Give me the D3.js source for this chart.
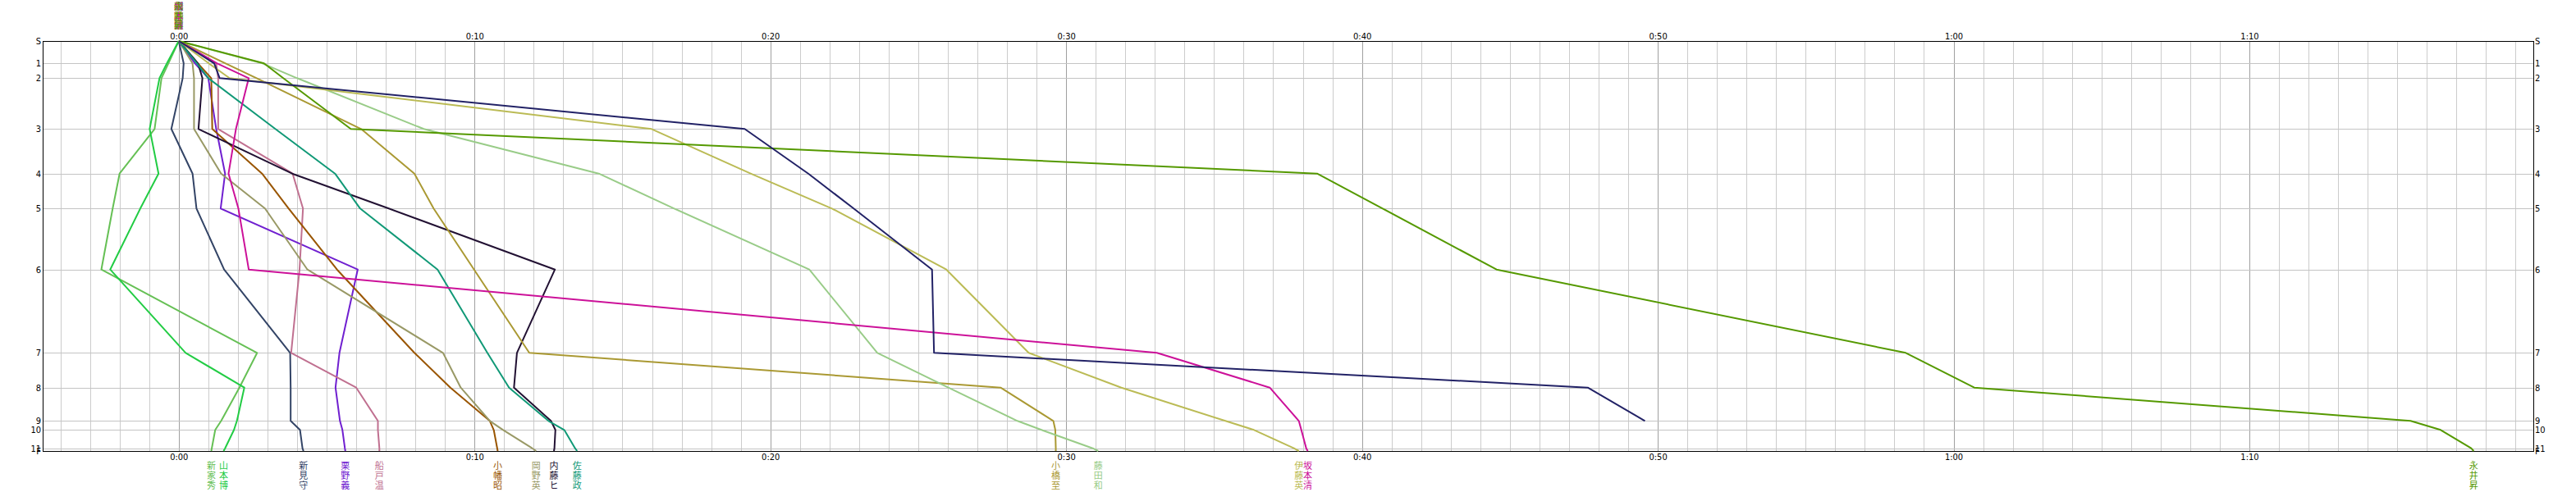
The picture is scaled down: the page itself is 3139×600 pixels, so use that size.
<!DOCTYPE html>
<html>
<head>
<meta charset="utf-8">
<script src="https://cdn.jsdelivr.net/npm/d3@7"></script>
<style>
  body { margin: 0; background: #fff; }
  svg text { font-family: 'DejaVu Sans Condensed', 'DejaVu Sans', sans-serif; font-stretch: condensed; }
  .name { font-family: 'Noto Sans CJK JP', sans-serif; }
</style>
</head>
<body>
<div id="chart"></div>
<script>
// controles del recorrido y distancia acumulada (m)
const controls = ['S', '1', '2', '3', '4', '5', '6', '7', '8', '9', '10', '11', 'F'];
const controlDist = [0, 273, 453, 1073, 1617, 2043, 2787, 3803, 4227, 4633, 4743, 4967, 5000];

// corredores
const runners = ['新家秀', '山本博', '新見守', '栗野義', '船戸温', '小幡昭', '岡野英', '内藤ヒ',
    '佐藤政', '小橋至', '藤田和', '伊藤英', '坂本清', '永井昇', ''];
const runnerColors = ['#66c055', '#22cc44', '#334466', '#7020d0', '#c07090', '#995500', '#999966', '#221133',
    '#119977', '#aa9933', '#99cc88', '#bbbb55', '#cc1199', '#559900', '#222266'];

// diferencia (s) en cada control: S,1..11,F
const splits = [
    [0, -21, -35, -49, -120, -134, -157, 159, 123, 86, 74, 67, 66],
    [0, -24, -39, -59, -41, -78, -139, 14, 133, 118, 112, 94, 91],
    [0, 10, 8, -15, 28, 36, 92, 226, 227, 227, 246, 251, 253],
    [0, 33, 60, 76, 94, 85, 363, 326, 318, 327, 332, 337, 338],
    [0, 76, 80, 80, 231, 252, 245, 228, 360, 404, 404, 407, 407],
    [0, 39, 66, 68, 169, 223, 321, 478, 551, 631, 639, 646, 647],
    [0, 28, 31, 31, 86, 175, 261, 536, 572, 631, 658, 717, 725],
    [0, 39, 48, 40, 230, 426, 763, 686, 680, 755, 764, 762, 761],
    [0, 37, 60, 196, 317, 368, 525, 626, 670, 750, 782, 804, 808],
    [0, 95, 158, 370, 478, 517, 599, 711, 1667, 1774, 1778, 1779, 1779],
    [0, 170, 240, 497, 852, 1005, 1279, 1417, 1561, 1701, 1750, 1854, 1865],
    [0, 61, 103, 959, 1160, 1325, 1557, 1724, 1912, 2123, 2181, 2262, 2272],
    [0, 78, 142, 116, 101, 121, 142, 1984, 2213, 2272, 2277, 2287, 2290],
    [0, 173, 212, 349, 2309, 2442, 2673, 3503, 3642, 4527, 4588, 4650, 4655],
    [0, 72, 83, 1148, 1277, 1369, 1528, 1532, 2858, 2974]
];

const width = 3139, height = 600;

const x = d3.scaleLinear().domain([-276, 4776]).range([52, 3087]);
const y = d3.scaleLinear().domain([0, 5000]).range([50, 550]);

const svg = d3.select('#chart').append('svg')
    .attr('width', width)
    .attr('height', height);

//Rejilla
svg.append('g').selectAll('line')
    .data(d3.range(-240, 4777, 60))
    .enter().append('line')
    .attr('x1', d => Math.round(x(d)) + 0.5).attr('x2', d => Math.round(x(d)) + 0.5)
    .attr('y1', y(0)).attr('y2', y(5000))
    .attr('stroke', d => d % 600 == 0 ? '#a0a0a0' : '#cccccc')
    .attr('stroke-width', 1);

svg.append('g').selectAll('line')
    .data(controlDist.slice(1, -1))
    .enter().append('line')
    .attr('x1', x.range()[0]).attr('x2', x.range()[1])
    .attr('y1', d => Math.round(y(d)) + 0.5).attr('y2', d => Math.round(y(d)) + 0.5)
    .attr('stroke', '#c4c4c4')
    .attr('stroke-width', 1);

//Ejes
const fmt = d => Math.floor(d / 3600) + ':' + d3.format('02')(Math.floor(d / 60) % 60);
const timeTicks = d3.range(0, 4201, 600);

const axTop = svg.append('g').attr('transform', 'translate(0,' + y(0) + ')')
    .call(d3.axisTop(x).tickValues(timeTicks).tickSize(0).tickPadding(2).tickFormat(fmt));
const axBottom = svg.append('g').attr('transform', 'translate(0,' + y(5000) + ')')
    .call(d3.axisBottom(x).tickValues(timeTicks).tickSize(0).tickPadding(3).tickFormat(fmt));
const axLeft = svg.append('g').attr('transform', 'translate(' + x.range()[0] + ',0)')
    .call(d3.axisLeft(y).tickValues(controlDist).tickSize(0).tickPadding(2).tickFormat((d, i) => controls[i]));
const axRight = svg.append('g').attr('transform', 'translate(' + x.range()[1] + ',0)')
    .call(d3.axisRight(y).tickValues(controlDist).tickSize(0).tickPadding(2).tickFormat((d, i) => controls[i]));

[axTop, axBottom, axLeft, axRight].forEach(a => {
    a.select('.domain').remove();
    a.selectAll('text').attr('font-size', 11).attr('fill', '#000');
});

svg.append('rect')
    .attr('x', x.range()[0] + 0.5).attr('y', y(0) + 0.5)
    .attr('width', x.range()[1] - x.range()[0]).attr('height', y(5000) - y(0))
    .attr('fill', 'none').attr('stroke', '#000').attr('stroke-width', 1);

//Lineas
const line = d3.line()
    .x(d => x(d[0]))
    .y(d => y(d[1]));

svg.append('g').selectAll('path')
    .data(splits)
    .enter().append('path')
    .attr('d', (d) => line(d.map((v, j) => [v, controlDist[j]])))
    .attr('fill', 'none')
    .attr('stroke', (d, i) => runnerColors[i])
    .attr('stroke-width', 2)
    .attr('stroke-linejoin', 'round');

//Nombres: arriba en la salida, abajo en la llegada
const names = svg.append('g');
runners.forEach((name, i) => {
    if (!name) return;
    const chars = name.split('');
    const s = splits[i];
    chars.forEach((c, k) => {
        names.append('text').attr('class', 'name')
            .attr('x', x(s[0])).attr('y', 12 + k * 11.5)
            .attr('text-anchor', 'middle').attr('font-size', 11)
            .attr('fill', runnerColors[i]).text(c);
        if (s.length == controls.length) {
            names.append('text').attr('class', 'name')
                .attr('x', x(s[s.length - 1])).attr('y', 572 + k * 12)
                .attr('text-anchor', 'middle').attr('font-size', 11)
                .attr('fill', runnerColors[i]).text(c);
        }
    });
});
</script>
</body>
</html>
